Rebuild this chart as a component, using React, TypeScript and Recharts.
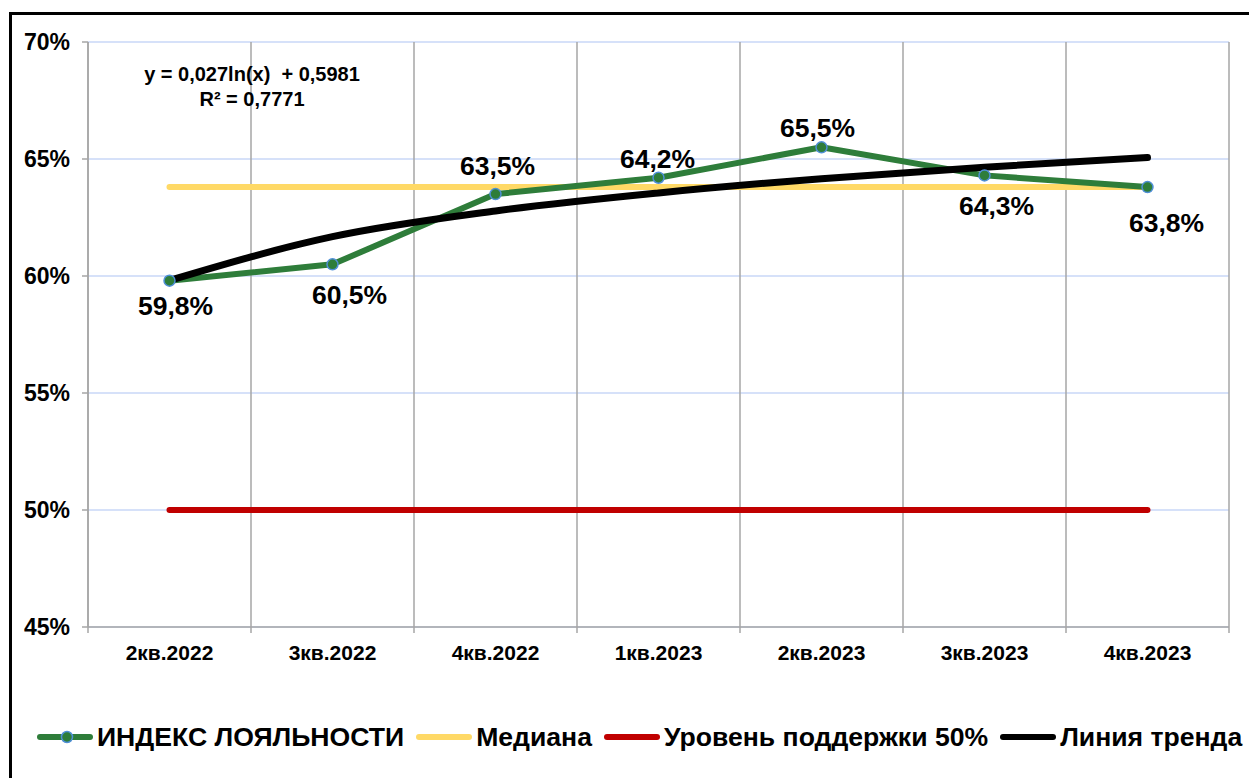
import React from "react";
import { LineChart, Line, XAxis, YAxis, CartesianGrid } from "recharts";

const categories = ["2кв.2022", "3кв.2022", "4кв.2022", "1кв.2023", "2кв.2023", "3кв.2023", "4кв.2023"];
const loyaltyIndex = [59.8, 60.5, 63.5, 64.2, 65.5, 64.3, 63.8];
const median = [63.8, 63.8, 63.8, 63.8, 63.8, 63.8, 63.8];
const supportLevel = [50, 50, 50, 50, 50, 50, 50];
const trendLine = [59.81, 61.68, 62.78, 63.55, 64.16, 64.65, 65.06];
const yTicks = [45, 50, 55, 60, 65, 70];
const equationLines = ["y = 0,027ln(x)  + 0,5981", "R² = 0,7771"];

const seriesNames = {
  loyalty: "ИНДЕКС ЛОЯЛЬНОСТИ",
  median: "Медиана",
  support: "Уровень поддержки 50%",
  trend: "Линия тренда",
};

const data = categories.map((cat, i) => ({
  cat,
  loyalty: loyaltyIndex[i],
  median: median[i],
  support: supportLevel[i],
  trend: trendLine[i],
}));

const GREEN = "#2e7d3a";
const YELLOW = "#ffd966";
const RED = "#c00000";
const BLACK = "#000000";
const MARKER_STROKE = "#4f8fd6";
const FONT = "'Liberation Sans', Arial, sans-serif";

// label offsets (dx, dy) relative to each point
const labelOffsets: [number, number][] = [
  [6, 25],
  [17, 31],
  [2, -28],
  [-1, -19],
  [-4, -19],
  [12, 31],
  [19, 36],
];

const fmt = (v: number) => v.toFixed(1).replace(".", ",") + "%";

const PointLabel = (props: any) => {
  const { x, y, index, value } = props;
  const [dx, dy] = labelOffsets[index] || [0, -20];
  return (
    <text
      x={x + dx}
      y={y + dy}
      textAnchor="middle"
      dominantBaseline="central"
      fontFamily={FONT}
      fontWeight="bold"
      fontSize={26.5}
      fill="#000"
    >
      {fmt(value)}
    </text>
  );
};

const CategoryTick = (props: any) => {
  const { x, y, payload, index } = props;
  const off = payload && typeof payload.offset === "number" ? payload.offset : 0;
  const isLast = index === categories.length - 1;
  return (
    <g>
      <line x1={x - off} y1={y} x2={x - off} y2={y + 6} stroke="#a6a6a6" strokeWidth={1.5} />
      {isLast && <line x1={x + off} y1={y} x2={x + off} y2={y + 6} stroke="#a6a6a6" strokeWidth={1.5} />}
      <text
        x={x}
        y={y + 25}
        textAnchor="middle"
        dominantBaseline="central"
        fontFamily={FONT}
        fontWeight="bold"
        fontSize={21}
        fill="#000"
      >
        {payload.value}
      </text>
    </g>
  );
};

const legendItems = [
  { key: "loyalty", color: GREEN, marker: true },
  { key: "median", color: YELLOW, marker: false },
  { key: "support", color: RED, marker: false },
  { key: "trend", color: BLACK, marker: false },
];

export default function App() {
  return (
    <div>
      <div
        style={{
          position: "absolute",
          left: 9,
          top: 12,
          width: 1240,
          height: 766,
          borderTop: "3px solid #000",
          borderLeft: "3px solid #000",
          boxSizing: "border-box",
        }}
      />
      <div style={{ position: "absolute", left: 0, top: 0, width: 1249, height: 778 }}>
        <LineChart
          width={1249}
          height={778}
          data={data}
          margin={{ top: 42, right: 20, bottom: 111, left: 0 }}
        >
          <CartesianGrid horizontal={true} vertical={false} stroke="#c9d7f7" strokeWidth={1.5} />
          <CartesianGrid
            horizontal={false}
            vertical={true}
            stroke="#a6a6a6"
            strokeWidth={1.5}
            verticalCoordinatesGenerator={({ offset }: any) =>
              Array.from({ length: categories.length + 1 }, (_, i) => offset.left + (i * offset.width) / categories.length)
            }
          />
          <XAxis
            dataKey="cat"
            scale="band"
            height={40}
            axisLine={{ stroke: "#a6a6a6", strokeWidth: 1.5 }}
            tickLine={false}
            tickSize={0}
            tickMargin={0}
            interval={0}
            tick={<CategoryTick />}
          />
          <YAxis
            width={88}
            domain={[45, 70]}
            ticks={yTicks}
            interval={0}
            allowDataOverflow
            tickFormatter={(v: number) => v + "%"}
            axisLine={{ stroke: "#a6a6a6", strokeWidth: 1.5 }}
            tickLine={{ stroke: "#a6a6a6", strokeWidth: 1.5 }}
            tickSize={6}
            tickMargin={12}
            tick={{ fontFamily: FONT, fontWeight: "bold", fontSize: 23, fill: "#000" }}
          />
          <Line
            dataKey="median"
            stroke={YELLOW}
            strokeWidth={6}
            strokeLinecap="round"
            dot={false}
            activeDot={false}
            isAnimationActive={false}
          />
          <Line
            dataKey="support"
            stroke={RED}
            strokeWidth={6}
            strokeLinecap="round"
            dot={false}
            activeDot={false}
            isAnimationActive={false}
          />
          <Line
            dataKey="loyalty"
            stroke={GREEN}
            strokeWidth={6}
            strokeLinejoin="round"
            dot={{ r: 5.5, fill: GREEN, stroke: MARKER_STROKE, strokeWidth: 1.5 }}
            activeDot={false}
            label={<PointLabel />}
            isAnimationActive={false}
          />
          <Line
            dataKey="trend"
            type="monotone"
            stroke={BLACK}
            strokeWidth={7}
            strokeLinecap="round"
            dot={false}
            activeDot={false}
            isAnimationActive={false}
          />
        </LineChart>
      </div>
      <div
        style={{
          position: "absolute",
          left: 132,
          top: 62,
          width: 240,
          textAlign: "center",
          fontFamily: FONT,
          fontWeight: "bold",
          fontSize: 20,
          lineHeight: "25px",
          color: "#000",
          whiteSpace: "pre",
        }}
      >
        {equationLines.map((l, i) => (
          <div key={i}>{l}</div>
        ))}
      </div>
      <div
        style={{
          position: "absolute",
          left: 37,
          top: 720,
          height: 34,
          display: "flex",
          alignItems: "center",
          whiteSpace: "nowrap",
        }}
      >
        {legendItems.map((it) => (
          <div key={it.key} style={{ display: "flex", alignItems: "center", marginRight: 12 }}>
            <svg width={56} height={14} style={{ display: "block" }}>
              <line x1={3} y1={7} x2={53} y2={7} stroke={it.color} strokeWidth={6} strokeLinecap="round" />
              {it.marker && <circle cx={30} cy={7} r={5.5} fill={GREEN} stroke={MARKER_STROKE} strokeWidth={1.5} />}
            </svg>
            <span
              style={{
                marginLeft: 4,
                fontFamily: FONT,
                fontWeight: "bold",
                fontSize: 26.6,
                color: "#000",
              }}
            >
              {seriesNames[it.key as keyof typeof seriesNames]}
            </span>
          </div>
        ))}
      </div>
    </div>
  );
}
